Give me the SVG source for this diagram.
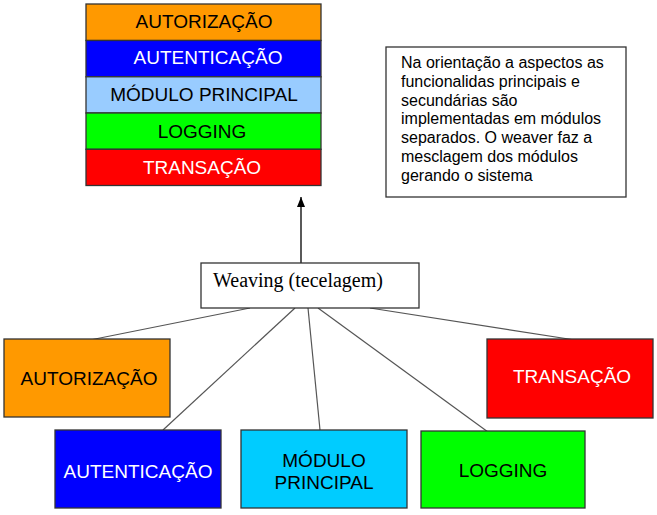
<svg xmlns="http://www.w3.org/2000/svg" width="657" height="515" viewBox="0 0 657 515">
<style>
.box{stroke:#333;stroke-width:1.3}
.t{font-family:"Liberation Sans",Arial,sans-serif;font-size:19px;text-anchor:middle}
.w{fill:#fff}
.k{fill:#000}
.note{font-family:"Liberation Sans",Arial,sans-serif;font-size:16px;fill:#000}
.conn{stroke:#555;stroke-width:1.2;fill:none}
</style>
<defs>
<marker id="arr" markerWidth="10" markerHeight="8" refX="10" refY="4" orient="auto" markerUnits="userSpaceOnUse" viewBox="0 0 10 8">
<path d="M0,0 L10,4 L0,8 Z" fill="#000"/>
</marker>
</defs>
<rect width="657" height="515" fill="#fff"/>
<g id="stack">
<g id="stack-autorizacao"><rect class="box" x="86" y="4" width="235" height="36.5" fill="#FF9900"/><text class="t k" x="204" y="28">AUTORIZAÇÃO</text></g>
<g id="stack-autenticacao"><rect class="box" x="86" y="40.5" width="235" height="36.3" fill="#0000FF"/><text class="t w" x="208" y="64">AUTENTICAÇÃO</text></g>
<g id="stack-modulo"><rect class="box" x="86" y="76.8" width="235" height="36.2" fill="#99CCFF"/><text class="t k" x="204" y="101">MÓDULO PRINCIPAL</text></g>
<g id="stack-logging"><rect class="box" x="86" y="113" width="235" height="36.3" fill="#00FF00"/><text class="t k" x="202" y="138">LOGGING</text></g>
<g id="stack-transacao"><rect class="box" x="86" y="149.3" width="235" height="36.2" fill="#FF0000"/><text class="t w" x="202" y="174">TRANSAÇÃO</text></g>
</g>
<g id="note">
<rect x="386" y="47" width="240" height="150" fill="#fff" stroke="#333" stroke-width="1.3"/>
<text class="note" x="401" y="68">Na orientação a aspectos as</text>
<text class="note" x="401" y="86.8">funcionalidas principais e</text>
<text class="note" x="401" y="105.6">secundárias são</text>
<text class="note" x="401" y="124.4">implementadas em módulos</text>
<text class="note" x="401" y="143.2">separados. O weaver faz a</text>
<text class="note" x="401" y="162">mesclagem dos módulos</text>
<text class="note" x="401" y="180.8">gerando o sistema</text>
</g>
<g id="connectors">
<line x1="301" y1="263" x2="301" y2="197" stroke="#000" stroke-width="1.3" marker-end="url(#arr)"/>
<line class="conn" x1="250" y1="308" x2="90" y2="340"/>
<line class="conn" x1="295" y1="308" x2="163" y2="430"/>
<line class="conn" x1="308" y1="308" x2="320" y2="430"/>
<line class="conn" x1="318" y1="308" x2="488" y2="432"/>
<line class="conn" x1="370" y1="308" x2="575" y2="340"/>
</g>
<g id="weaving">
<rect x="201" y="263" width="218" height="45" fill="#fff" stroke="#333" stroke-width="1.3"/>
<text x="213" y="287" font-family="'Liberation Serif','Times New Roman',serif" font-size="20" fill="#000">Weaving (tecelagem)</text>
</g>
<g id="autorizacao"><rect class="box" x="4" y="339" width="166" height="78" fill="#FF9900"/><text class="t k" x="89" y="385">AUTORIZAÇÃO</text></g>
<g id="autenticacao"><rect class="box" x="55" y="430" width="166" height="78" fill="#0000FF"/><text class="t w" x="138" y="478">AUTENTICAÇÃO</text></g>
<g id="modulo"><rect class="box" x="241" y="430" width="166" height="78" fill="#00CCFF"/><text class="t k" x="324" y="467">MÓDULO</text><text class="t k" x="324" y="489">PRINCIPAL</text></g>
<g id="logging"><rect class="box" x="421" y="431" width="164" height="77" fill="#00FF00"/><text class="t k" x="503" y="477">LOGGING</text></g>
<g id="transacao"><rect class="box" x="487" y="339" width="166" height="79" fill="#FF0000"/><text class="t w" x="572" y="383">TRANSAÇÃO</text></g>
</svg>
